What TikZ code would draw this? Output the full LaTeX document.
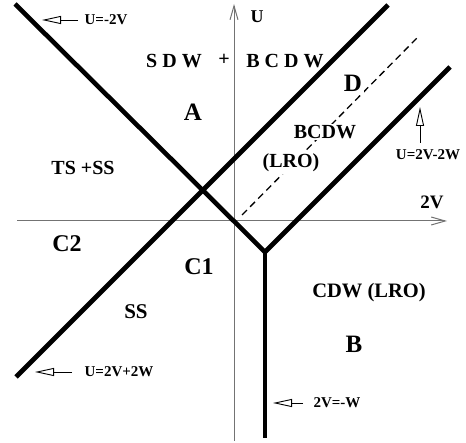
\documentclass[tikz,border=0pt]{standalone}
\usepackage{fontspec}
\setmainfont{Liberation Serif}
\usetikzlibrary{arrows.meta}
\begin{document}
\begin{tikzpicture}[x=1pt,y=-1pt,
  boundary/.style={line width=4.6pt},
  axisline/.style={draw=black!55, line width=1pt, -{Straight Barb[length=14pt,width=8pt]}},
  dashline/.style={line width=1.3pt, dash pattern=on 7pt off 4.5pt},
  note/.style={line width=0.9pt, -{Triangle[open,length=19pt,width=8pt]}},
  lbl/.style={inner sep=0pt, font=\bfseries\fontsize{#1}{#1}\selectfont},
  masked/.style={fill=white, inner sep=1.5pt},
]
\useasboundingbox (0,0) rectangle (466,443);
% coordinates
\coordinate (h0) at (17,221);
\coordinate (h1) at (447,221);
\coordinate (v0) at (234,441);
\coordinate (v1) at (234,4);
\coordinate (l1a) at (15,4);
\coordinate (vx) at (265,252);
\coordinate (l3b) at (450,67);
\coordinate (vb) at (265,438);
\coordinate (l2a) at (16,377);
\coordinate (l2b) at (388,5);
\coordinate (da) at (242,215);
\coordinate (db) at (417,38);
% axes
\draw[axisline] (h0) -- (h1);
\draw[axisline] (v0) -- (v1);
% boundaries
\draw[boundary, line join=miter] (l1a) -- (vx) -- (l3b);
\draw[boundary] (vx) -- (vb);
\draw[boundary] (l2a) -- (l2b);
\draw[dashline] (da) -- (db);
% annotation arrows
\coordinate (n1a) at (78,20);  \coordinate (n1b) at (42,20);
\coordinate (n2a) at (420,143); \coordinate (n2b) at (420,107);
\coordinate (n3a) at (72,372); \coordinate (n3b) at (35,372);
\coordinate (n4a) at (303,403); \coordinate (n4b) at (273,403);
\draw[note] (n1a) -- (n1b);
\draw[note] (n2a) -- (n2b);
\draw[note] (n3a) -- (n3b);
\draw[note] (n4a) -- (n4b);
\node[lbl=15] (t1) at (106,20) {U=-2V};
\node[lbl=15] (t2) at (428,155) {U=2V-2W};
\node[lbl=15] (t3) at (119,372) {U=2V+2W};
\node[lbl=15] (t4) at (337,403) {2V=-W};
% region labels
\node[lbl=18] (u) at (257,17) {U};
\node[lbl=19] (v) at (432,202) {2V};
\node[lbl=20] (sdw) at (174,61) {S D W};
\node[lbl=20] (plus) at (224,60) {+};
\node[lbl=20] (bcdw1) at (285,61) {B C D W};
\node[lbl=25] (A) at (193,112) {A};
\node[lbl=25, masked] (D) at (353,83) {D};
\node[lbl=20, masked] (bcdw) at (325,132) {BCDW};
\node[lbl=20, masked] (lro) at (291,163) {(LRO)};
\node[lbl=20] (tsss) at (83,168) {TS +SS};
\node[lbl=24] (C2) at (67,244) {C2};
\node[lbl=24] (C1) at (199,267) {C1};
\node[lbl=21] (ss) at (136,312) {SS};
\node[lbl=20.5] (cdw) at (369,293) {CDW (LRO)};
\node[lbl=25] (B) at (354,344) {B};
\end{tikzpicture}
\end{document}
